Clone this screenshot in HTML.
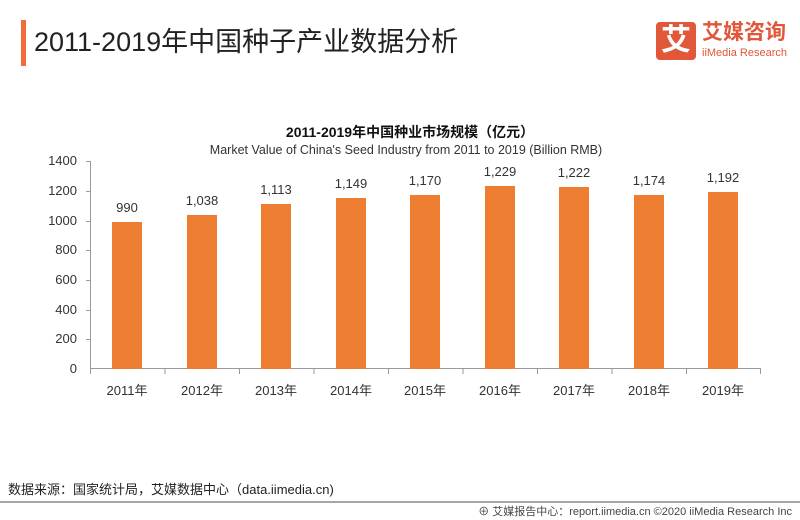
<!DOCTYPE html>
<html><head><meta charset="utf-8"><style>
body{margin:0;width:800px;height:520px;background:#fff;overflow:hidden;font-family:"Liberation Sans","Noto Sans CJK SC",sans-serif;position:relative}
.a{position:absolute;white-space:nowrap}
</style></head><body>
<div class="a" style="left:21px;top:20px;width:5px;height:46px;background:#F26B3A"></div>
<div class="a" style="left:34px;top:22px;font-size:27px;color:#222;line-height:40px">2011-2019年中国种子产业数据分析</div>
<div class="a" style="left:656px;top:22px;width:40px;height:38px;background:#E0573A;border-radius:4px;color:#fff;font-size:30px;line-height:38px;text-align:center;font-weight:bold">艾</div>
<div class="a" style="left:702px;top:20px;font-size:21px;color:#E0573A;font-weight:bold;line-height:26px">艾媒咨询</div>
<div class="a" style="left:702px;top:46px;font-size:11px;color:#E0573A;line-height:14px">iiMedia Research</div>
<div class="a" style="left:0;width:800px;top:123px;text-align:center;font-size:14px;font-weight:bold;color:#111;line-height:18px;padding-left:20px;box-sizing:border-box">2011-2019年中国种业市场规模（亿元）</div>
<div class="a" style="left:0;width:800px;top:142px;text-align:center;font-size:12.5px;color:#333;line-height:16px;padding-left:12px;box-sizing:border-box">Market Value of China's Seed Industry from 2011 to 2019 (Billion RMB)</div>
<svg class="a" style="left:0;top:0" width="800" height="520" font-family="Liberation Sans, Noto Sans CJK SC, sans-serif">
<g fill="#333" font-size="13" text-anchor="end">
<text x="77" y="373">0</text><text x="77" y="343">200</text><text x="77" y="314">400</text><text x="77" y="284">600</text><text x="77" y="254">800</text><text x="77" y="225">1000</text><text x="77" y="195">1200</text><text x="77" y="165">1400</text>
</g>
<g stroke="#999" stroke-width="1">
<line x1="90.5" y1="161" x2="90.5" y2="369"/>
<line x1="86" y1="161.5" x2="90" y2="161.5"/><line x1="86" y1="191.5" x2="90" y2="191.5"/><line x1="86" y1="221.5" x2="90" y2="221.5"/><line x1="86" y1="250.5" x2="90" y2="250.5"/><line x1="86" y1="280.5" x2="90" y2="280.5"/><line x1="86" y1="310.5" x2="90" y2="310.5"/><line x1="86" y1="339.5" x2="90" y2="339.5"/>
<line x1="90" y1="368.5" x2="761" y2="368.5"/>
<line x1="90.5" y1="369" x2="90.5" y2="374"/><line x1="165" y1="369" x2="165" y2="374"/><line x1="239.5" y1="369" x2="239.5" y2="374"/><line x1="314" y1="369" x2="314" y2="374"/><line x1="388.5" y1="369" x2="388.5" y2="374"/><line x1="463" y1="369" x2="463" y2="374"/><line x1="537.5" y1="369" x2="537.5" y2="374"/><line x1="612" y1="369" x2="612" y2="374"/><line x1="686.5" y1="369" x2="686.5" y2="374"/><line x1="760.5" y1="369" x2="760.5" y2="374"/>
</g>
<g fill="#ED7D31">
<rect x="112" y="222" width="30" height="147"/>
<rect x="187" y="215" width="30" height="154"/>
<rect x="261" y="204" width="30" height="165"/>
<rect x="336" y="198" width="30" height="171"/>
<rect x="410" y="195" width="30" height="174"/>
<rect x="485" y="186" width="30" height="183"/>
<rect x="559" y="187" width="30" height="182"/>
<rect x="634" y="195" width="30" height="174"/>
<rect x="708" y="192" width="30" height="177"/>
</g>
<g fill="#333" font-size="13" text-anchor="middle">
<text x="127" y="212">990</text><text x="202" y="205">1,038</text><text x="276" y="194">1,113</text><text x="351" y="188">1,149</text><text x="425" y="185">1,170</text><text x="500" y="176">1,229</text><text x="574" y="177">1,222</text><text x="649" y="185">1,174</text><text x="723" y="182">1,192</text>
<text x="127" y="395">2011年</text><text x="202" y="395">2012年</text><text x="276" y="395">2013年</text><text x="351" y="395">2014年</text><text x="425" y="395">2015年</text><text x="500" y="395">2016年</text><text x="574" y="395">2017年</text><text x="649" y="395">2018年</text><text x="723" y="395">2019年</text>
</g>
<line x1="0" y1="502" x2="800" y2="502" stroke="#888" stroke-width="1.5"/>
</svg>
<div class="a" style="left:8px;top:482px;font-size:13px;color:#222;line-height:16px">数据来源：国家统计局，艾媒数据中心（data.iimedia.cn)</div>
<div class="a" style="right:8px;top:505px;font-size:11px;color:#444;line-height:14px">⊕ 艾媒报告中心：report.iimedia.cn  ©2020  iiMedia Research Inc</div>
</body></html>
